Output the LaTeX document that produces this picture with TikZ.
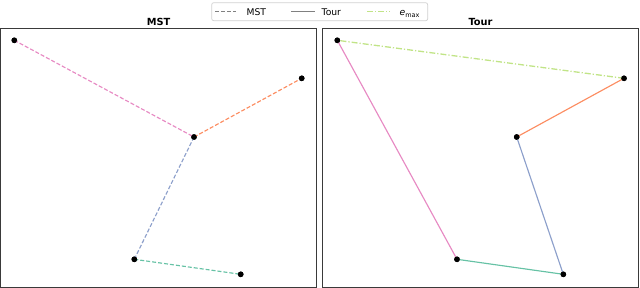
\documentclass[tikz,border=0pt]{standalone}
\usepackage{fontspec}
\setmainfont{DejaVu Sans}
\definecolor{cgreen}{HTML}{66C2A5}
\definecolor{corange}{HTML}{FC8D62}
\definecolor{cblue}{HTML}{8DA0CB}
\definecolor{cpink}{HTML}{E78AC3}
\definecolor{clime}{HTML}{A6D854}
\definecolor{spine}{HTML}{3A3A3A}
\begin{document}
\begin{tikzpicture}[x=1pt,y=-1pt,
  dot/.style={circle,fill=black,inner sep=0pt,minimum size=5.6pt},
  mstedge/.style={line width=1.15pt,dash pattern=on 4pt off 2pt},
  touredge/.style={line width=1.15pt},
  maxedge/.style={line width=1.3pt,clime!70,dash pattern=on 6pt off 2pt on 1.2pt off 2pt},
  frame/.style={draw=spine,line width=1pt},
  ttl/.style={font=\bfseries\fontsize{9.8}{11}\selectfont,inner sep=0pt,anchor=base},
  leg/.style={font=\fontsize{9.2}{10}\selectfont,inner sep=0pt,anchor=base west}]
\useasboundingbox (0,0) rectangle (640,287);
\clip (0,0) rectangle (640,287);
% frames
\draw[frame] (0.5,28.5) rectangle (316.8,287.5);
\draw[frame] (322.8,28.5) rectangle (638.3,287.5);
% titles
\node[ttl] (t1) at (158.6,25.3) {MST};
\node[ttl] (t2) at (480.5,25.3) {Tour};
% legend
\draw[draw=black!18,fill=white,rounded corners=2pt,line width=0.7pt] (211.7,2.7) rectangle (427.7,20.7);
\coordinate (l1a) at (215,11.6); \coordinate (l1b) at (236,11.6);
\coordinate (l2a) at (291,11.6); \coordinate (l2b) at (315,11.6);
\coordinate (l3a) at (367,11.6); \coordinate (l3b) at (390,11.6);
\draw[mstedge,black!50,line width=1.4pt] (l1a) -- (l1b);
\draw[touredge,black!50,line width=1.4pt] (l2a) -- (l2b);
\draw[maxedge,line width=1.5pt] (l3a) -- (l3b);
\node[leg] (lt1) at (246.5,15.4) {MST};
\node[leg] (lt2) at (321.5,15.4) {Tour};
\node[leg] (lt3) at (399.5,15.4) {\itshape e\/\upshape\raisebox{-0.28em}{\fontsize{6.5}{7}\selectfont max}};
% MST panel
\node[dot] (a1) at (14.3,40.3) {};
\node[dot] (b1) at (301.7,78.3) {};
\node[dot] (c1) at (194,137) {};
\node[dot] (d1) at (134.3,259.3) {};
\node[dot] (e1) at (240.7,274.3) {};
\draw[mstedge,cpink] (a1.center) -- (c1.center);
\draw[mstedge,corange] (c1.center) -- (b1.center);
\draw[mstedge,cblue] (c1.center) -- (d1.center);
\draw[mstedge,cgreen] (d1.center) -- (e1.center);
% Tour panel
\node[dot] (a2) at (337.3,40.3) {};
\node[dot] (b2) at (624,78.3) {};
\node[dot] (c2) at (516.7,137) {};
\node[dot] (d2) at (457,259.3) {};
\node[dot] (e2) at (563.3,274.3) {};
\draw[touredge,cpink] (a2.center) -- (d2.center);
\draw[touredge,cgreen] (d2.center) -- (e2.center);
\draw[touredge,cblue] (e2.center) -- (c2.center);
\draw[touredge,corange] (c2.center) -- (b2.center);
\draw[maxedge] (b2.center) -- (a2.center);
% redraw dots on top
\foreach \n in {a1,b1,c1,d1,e1,a2,b2,c2,d2,e2}{\fill[black] (\n) circle (2.8pt);}
\end{tikzpicture}
\end{document}
